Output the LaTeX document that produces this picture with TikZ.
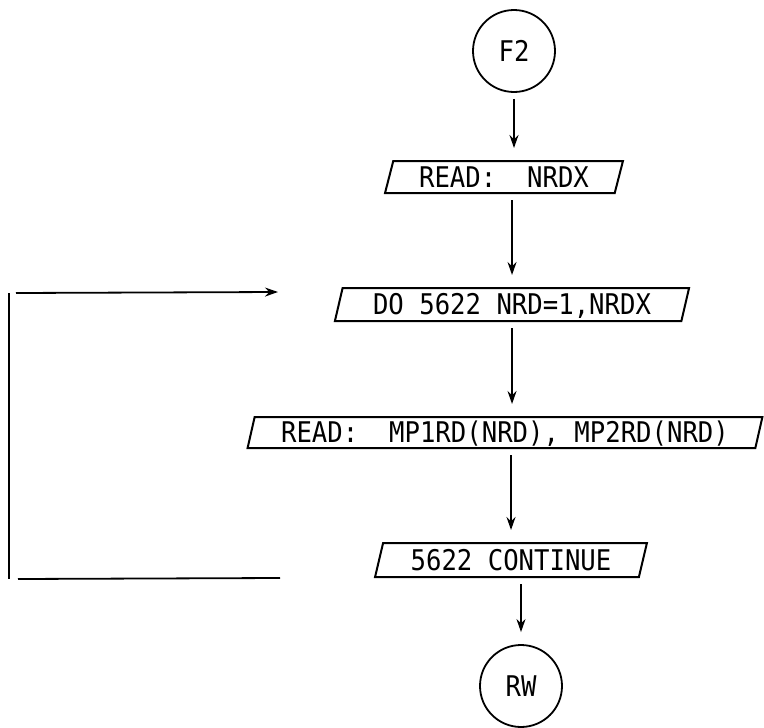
\documentclass[tikz,border=0pt]{standalone}
\usepackage{fontspec}
\newfontfamily\plotfont[FakeStretch=0.9]{DejaVu Sans Mono}
\usepackage{tikz}
\usetikzlibrary{arrows.meta,positioning,shapes.geometric,calc}

\tikzset{
  iobox/.style={trapezium,trapezium left angle=74,trapezium right angle=106,
    trapezium stretches=true,draw,line width=2pt,inner xsep=0pt,inner ysep=0pt,
    font=\fontsize{28.5}{30}\plotfont,text height=21pt,text depth=1pt},
  term/.style={circle,draw,line width=1.8pt,minimum size=82pt,inner sep=0pt,
    font=\fontsize{28.5}{30}\plotfont},
  flow/.style={-{Stealth[length=13pt,width=9pt]},line width=1.7pt,
    shorten <=6pt,shorten >=12pt},
}

\begin{document}
\begin{tikzpicture}[x=1pt,y=-1pt]
  \useasboundingbox (0,0) rectangle (764,728);
  % terminals
  \node[term] (F2) at (514,51) {F2};
  \node[term] (RW) at (521,686) {RW};
  % i/o boxes
  \node[iobox,minimum width=238pt,minimum height=32pt] (rdx) at (504,177) {READ:~~NRDX};
  \node[iobox,minimum width=355pt,minimum height=33pt] (do) at (512,304.5) {DO 5622 NRD=1,NRDX};
  \node[iobox,minimum width=516pt,minimum height=31pt] (mp) at (505,432.5) {READ:~~MP1RD(NRD), MP2RD(NRD)};
  \node[iobox,minimum width=272pt,minimum height=34pt] (cont) at (511,560) {5622 CONTINUE};
  % main flow
  \draw[flow] (F2.south) -- (F2.south |- rdx.north);
  \draw[flow] (do.north |- rdx.south) -- (do.north);
  \draw[flow] (do.south) -- (do.south |- mp.north);
  \draw[flow] (cont.north |- mp.south) -- (cont.north);
  \draw[flow] (RW.north |- cont.south) -- (RW.north);
  % loop back
  \coordinate (lptop) at (9,293);
  \coordinate (lpbot) at (9,579);
  \coordinate (lpin) at (278,292);
  \coordinate (lpout) at (280,578);
  \draw[line width=1.8pt] (lptop) -- (lpbot);
  \draw[-{Stealth[length=13pt,width=9pt]},line width=1.8pt] ([xshift=7pt]lptop) -- (lpin);
  \draw[line width=1.8pt] ([xshift=9pt]lpbot) -- (lpout);
\end{tikzpicture}
\end{document}
